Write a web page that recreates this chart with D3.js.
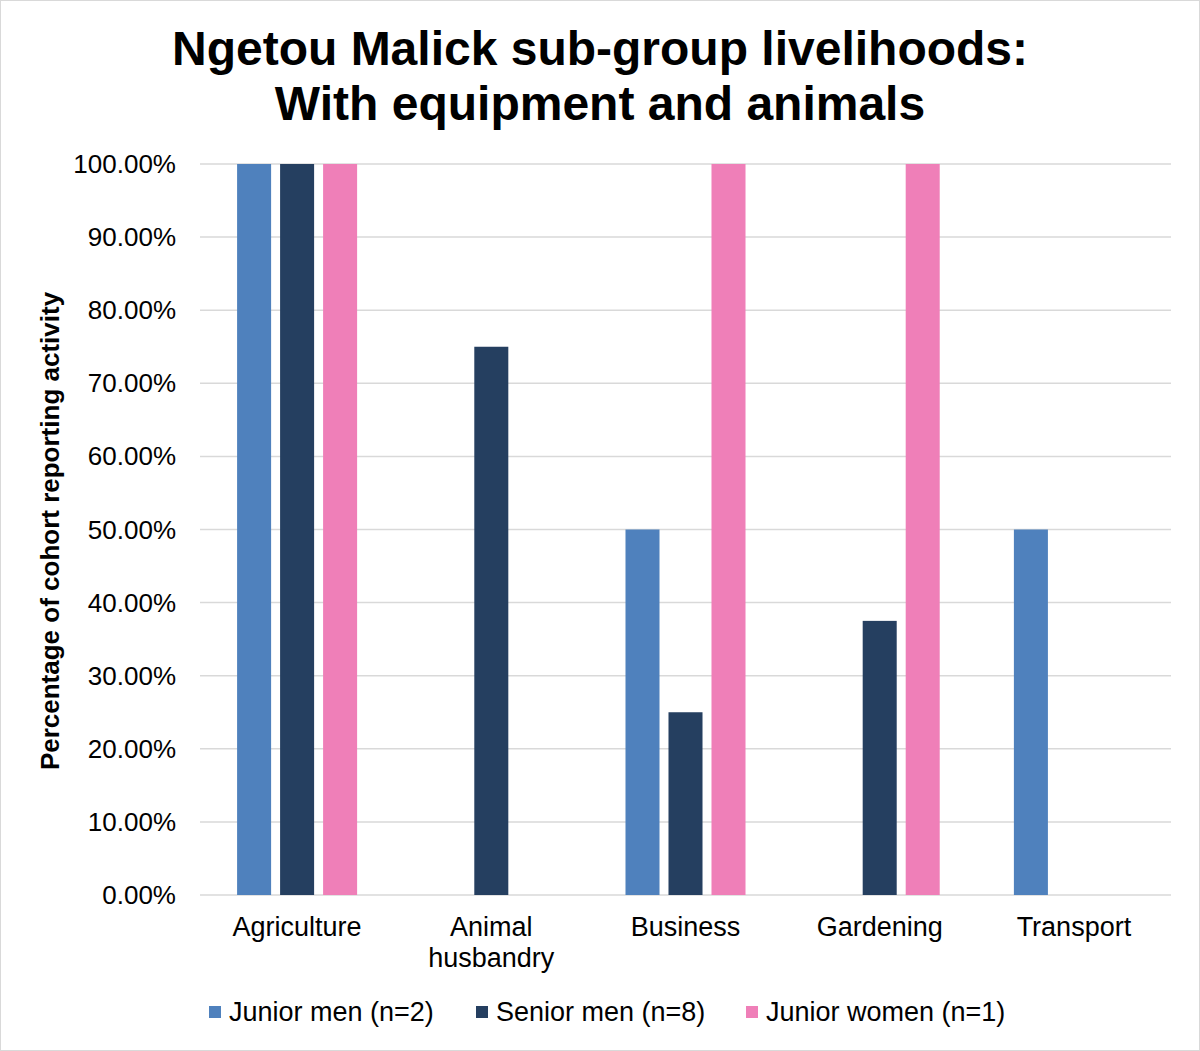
<!DOCTYPE html>
<html>
<head>
<meta charset="utf-8">
<script src="https://cdn.jsdelivr.net/npm/d3@7"></script>
<style>
  body { margin: 0; background: #fff; }
  svg { font-family: "Liberation Sans", Arial, sans-serif; display: block; }
</style>
</head>
<body>
<svg id="chart" width="1200" height="1051"></svg>
<script>
// data
var categories = ["Agriculture", "Animal husbandry", "Business", "Gardening", "Transport"];
var seriesNames = ["Junior men (n=2)", "Senior men (n=8)", "Junior women (n=1)"];
var juniorMen = [1.00, 0, 0.50, 0, 0.50];
var seniorMen = [1.00, 0.75, 0.25, 0.375, 0];
var juniorWomen = [1.00, 0, 1.00, 1.00, 0];
var yTicks = [0, 0.1, 0.2, 0.3, 0.4, 0.5, 0.6, 0.7, 0.8, 0.9, 1.0];
var colors = ["#4f81bd", "#253f60", "#ef7fb8"];

var allSeries = [juniorMen, seniorMen, juniorWomen];

var svg = d3.select("#chart"),
    width = +svg.attr("width"),
    height = +svg.attr("height");

// outer border
svg.append("rect")
    .attr("x", 0.5).attr("y", 0.5)
    .attr("width", width - 1).attr("height", height - 1)
    .attr("fill", "#fff")
    .attr("stroke", "#d9d9d9");

// title
svg.append("text")
    .attr("x", 600).attr("y", 65)
    .attr("text-anchor", "middle")
    .style("font-size", "48px").style("font-weight", "bold")
    .text("Ngetou Malick sub-group livelihoods:");
svg.append("text")
    .attr("x", 600).attr("y", 120)
    .attr("text-anchor", "middle")
    .style("font-size", "48px").style("font-weight", "bold")
    .text("With equipment and animals");

var plotL = 200, plotR = 1171, plotT = 164, plotB = 895;

var x0 = d3.scaleBand()
    .domain(categories)
    .range([plotL, plotR])
    .paddingInner(0.382)
    .paddingOuter(0.191);

var x1 = d3.scaleBand()
    .domain(d3.range(seriesNames.length))
    .range([0, x0.bandwidth()])
    .paddingInner(0.209);

var y = d3.scaleLinear().domain([0, 1]).range([plotB, plotT]);

// gridlines
svg.append("g")
  .selectAll("line")
  .data(yTicks)
  .enter().append("line")
    .attr("x1", plotL).attr("x2", plotR)
    .attr("y1", function(d) { return y(d); })
    .attr("y2", function(d) { return y(d); })
    .attr("stroke", "#d9d9d9")
    .attr("stroke-width", 1.5);

// y tick labels
var pct = d3.format(".2%");
svg.append("g")
  .selectAll("text")
  .data(yTicks)
  .enter().append("text")
    .attr("x", 176)
    .attr("y", function(d) { return y(d) + 9; })
    .attr("text-anchor", "end")
    .style("font-size", "26px")
    .text(function(d) { return pct(d); });

// bars
var groups = svg.append("g")
  .selectAll("g")
  .data(categories)
  .enter().append("g")
    .attr("transform", function(d) { return "translate(" + x0(d) + ",0)"; });

groups.selectAll("rect")
    .data(function(d, i) {
      return allSeries.map(function(s, k) { return {k: k, v: s[i]}; }).filter(function(d) { return d.v > 0; });
    })
  .enter().append("rect")
    .attr("x", function(d) { return x1(d.k); })
    .attr("width", x1.bandwidth())
    .attr("y", function(d) { return y(d.v); })
    .attr("height", function(d) { return y(0) - y(d.v); })
    .attr("fill", function(d) { return colors[d.k]; });

// category labels (wrapped)
var catLabels = {"Animal husbandry": ["Animal", "husbandry"]};
svg.append("g")
  .selectAll("text")
  .data(categories)
  .enter().append("text")
    .attr("text-anchor", "middle")
    .style("font-size", "27px")
  .selectAll("tspan")
  .data(function(d) { return (catLabels[d] || [d]).map(function(t) { return {c: d, t: t}; }); })
  .enter().append("tspan")
    .attr("x", function(d) { return x0(d.c) + x0.bandwidth() / 2; })
    .attr("y", function(d, i) { return 936 + i * 31; })
    .text(function(d) { return d.t; });

// y axis title
svg.append("text")
    .attr("transform", "translate(59,531) rotate(-90)")
    .attr("text-anchor", "middle")
    .style("font-size", "26px").style("font-weight", "bold")
    .text("Percentage of cohort reporting activity");

// legend
var legendX = [209, 476, 746];
var legend = svg.append("g")
  .selectAll("g")
  .data(seriesNames)
  .enter().append("g")
    .attr("transform", function(d, i) { return "translate(" + legendX[i] + ",1006)"; });
legend.append("rect")
    .attr("width", 12).attr("height", 12)
    .attr("fill", function(d, i) { return colors[i]; });
legend.append("text")
    .attr("x", 20).attr("y", 15)
    .style("font-size", "27px")
    .text(function(d) { return d; });
</script>
</body>
</html>
